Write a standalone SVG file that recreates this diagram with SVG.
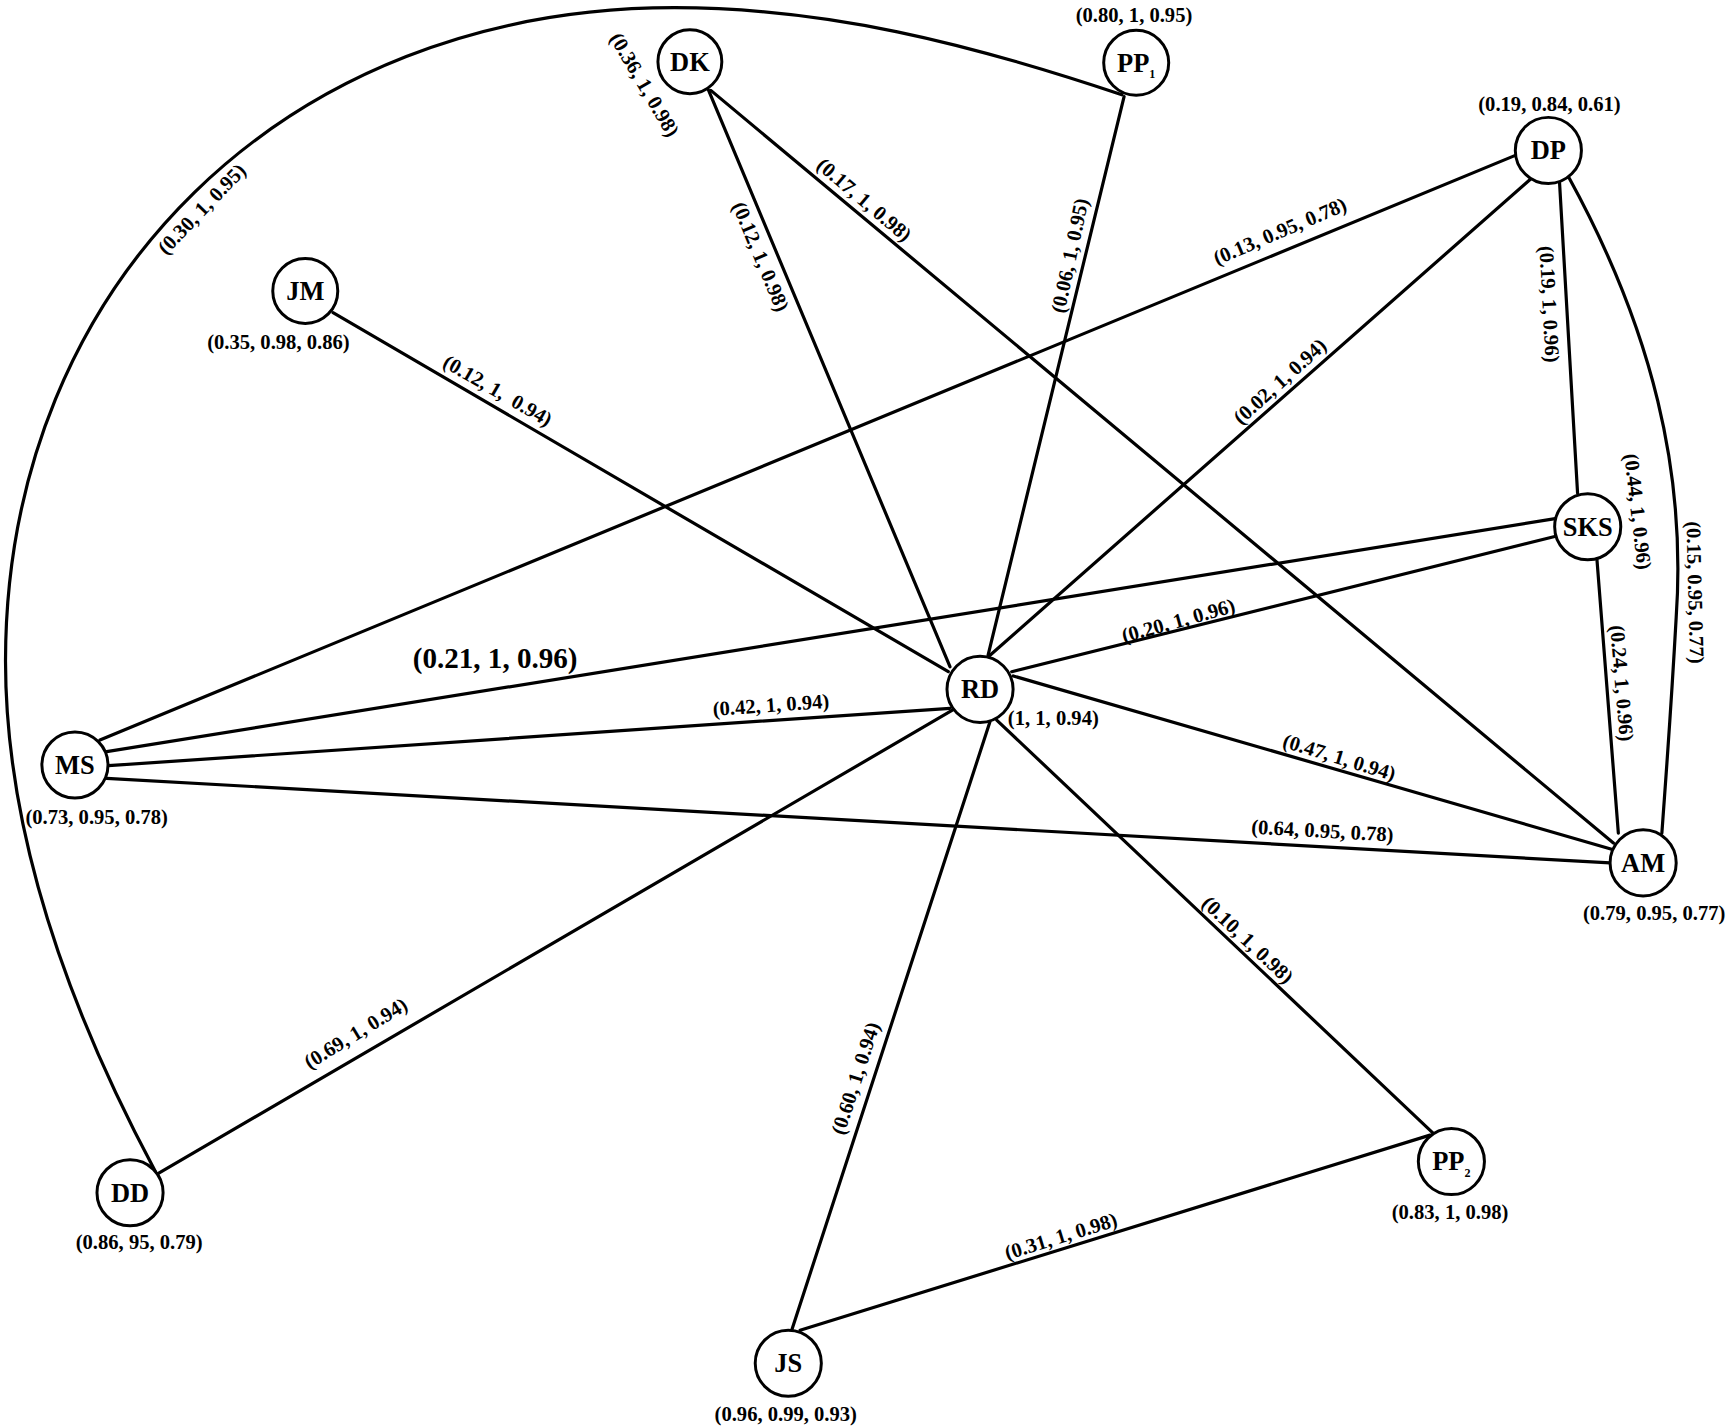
<svg xmlns="http://www.w3.org/2000/svg" width="1728" height="1426" viewBox="0 0 1728 1426">
<style>
.e{fill:none;stroke:#000;stroke-width:2.9;stroke-linecap:round}
.n circle{fill:#fff;stroke:#000;stroke-width:2.7}
.t{font-family:"Liberation Serif","Times New Roman",serif;font-weight:bold;font-size:24px;text-anchor:middle;fill:#000}
.l{font-family:"Liberation Serif","Times New Roman",serif;font-weight:bold;font-size:18.7px;text-anchor:middle;fill:#000;white-space:pre}
.big{font-size:26.4px}
.sub{font-size:11px}
</style>
<rect width="1728" height="1426" fill="#fff"/>
<g transform="scale(1.10204)">
<g id="connectors">
<path class="e" d="M1018,86 C878,39 750,7 612,7 C260,7 5,256 5,600 C5,740 50,893 141,1063"/>
<line class="e" x1="643" y1="82" x2="862" y2="605"/>
<line class="e" x1="645" y1="82" x2="1464" y2="765"/>
<line class="e" x1="1020" y1="87.7" x2="896.6" y2="594.4"/>
<line class="e" x1="1375" y1="141" x2="90.7" y2="671.5"/>
<line class="e" x1="1390" y1="161.5" x2="896.8" y2="595.9"/>
<line class="e" x1="1415" y1="163.3" x2="1431.5" y2="447.5"/>
<path class="e" d="M1423,160 C1500,300 1530,430 1521,560 C1516,650 1512,700 1508,756"/>
<line class="e" x1="302.2" y1="283.7" x2="860.5" y2="609.5"/>
<line class="e" x1="96.8" y1="682" x2="1412.6" y2="470.4"/>
<line class="e" x1="918" y1="609.5" x2="1412.6" y2="486.4"/>
<line class="e" x1="1449" y1="506.6" x2="1468.5" y2="756"/>
<line class="e" x1="98.3" y1="694.8" x2="862" y2="642.7"/>
<line class="e" x1="919.5" y1="613.4" x2="1464" y2="771"/>
<line class="e" x1="96.8" y1="706.3" x2="1461" y2="783"/>
<line class="e" x1="865" y1="644" x2="143.7" y2="1064.7"/>
<line class="e" x1="898.3" y1="655" x2="718.4" y2="1207"/>
<line class="e" x1="904.4" y1="653.4" x2="1300.6" y2="1028.4"/>
<line class="e" x1="726" y1="1207" x2="1297.6" y2="1030"/>
</g>
<g id="edge-labels">
<text class="l" transform="translate(183.2,189.8) rotate(-46)" y="6">(0.30, 1, 0.95)</text>
<text class="l" transform="translate(690,233) rotate(67.3)" y="6">(0.12, 1, 0.98)</text>
<text class="l" transform="translate(784,181.5) rotate(40.3)" y="6">(0.17, 1, 0.98)</text>
<text class="l" transform="translate(971,232) rotate(-78)" y="6">(0.06, 1, 0.95)</text>
<text class="l" transform="translate(1161.5,210) rotate(-23)" y="6">(0.13, 0.95, 0.78)</text>
<text class="l" transform="translate(1161.5,346.3) rotate(-42)" y="6">(0.02, 1, 0.94)</text>
<text class="l" transform="translate(1405.7,276) rotate(87)" y="6">(0.19, 1, 0.96)</text>
<text class="l" transform="translate(1538,537.6) rotate(88.5)" y="6">(0.15, 0.95, 0.77)</text>
<text class="l" transform="translate(451.5,354.6) rotate(30)" y="6" xml:space="preserve">(0.12, 1,  0.94)</text>
<text class="l big" x="449.3" y="606">(0.21, 1, 0.96)</text>
<text class="l" transform="translate(1069.3,563.4) rotate(-15.5)" y="6">(0.20, 1, 0.96)</text>
<text class="l" transform="translate(1471.5,620) rotate(85.2)" y="6">(0.24, 1, 0.96)</text>
<text class="l" transform="translate(699.5,640) rotate(-4)" y="6">(0.42, 1, 0.94)</text>
<text class="l" transform="translate(1215.2,687.4) rotate(17)" y="6">(0.47, 1, 0.94)</text>
<text class="l" transform="translate(1200,754) rotate(3.2)" y="6">(0.64, 0.95, 0.78)</text>
<text class="l" transform="translate(322.9,937.7) rotate(-31.5)" y="6">(0.69, 1, 0.94)</text>
<text class="l" transform="translate(776.5,978.5) rotate(-72)" y="6">(0.60, 1, 0.94)</text>
<text class="l" transform="translate(1132,853) rotate(43.3)" y="6">(0.10, 1, 0.98)</text>
<text class="l" transform="translate(962.7,1122) rotate(-17.2)" y="6">(0.31, 1, 0.98)</text>
</g>
<g id="node-DK" class="n">
<circle cx="626" cy="56" r="29"/>
<text class="t" x="626" y="64">DK</text>
<text class="l" transform="translate(584.6,77) rotate(59.5)" y="6">(0.36, 1, 0.98)</text>
</g>
<g id="node-PP1" class="n">
<circle cx="1031" cy="57" r="29.5"/>
<text class="t" x="1031" y="65">PP<tspan class="sub" dy="6">1</tspan></text>
<text class="l" x="1029" y="20">(0.80, 1, 0.95)</text>
</g>
<g id="node-DP" class="n">
<circle cx="1405" cy="136.5" r="30"/>
<text class="t" x="1405" y="144.5">DP</text>
<text class="l" x="1406" y="100.8">(0.19, 0.84, 0.61)</text>
</g>
<g id="node-JM" class="n">
<circle cx="277" cy="264" r="29.5"/>
<text class="t" x="277" y="272">JM</text>
<text class="l" x="252.6" y="316.4">(0.35, 0.98, 0.86)</text>
</g>
<g id="node-SKS" class="n">
<circle cx="1440.7" cy="478" r="30"/>
<text class="t" x="1440.7" y="486">SKS</text>
<text class="l" transform="translate(1485.9,464.3) rotate(83.3)" y="6">(0.44, 1, 0.96)</text>
</g>
<g id="node-RD" class="n">
<circle cx="889.3" cy="625.5" r="30"/>
<text class="t" x="889.3" y="633.5">RD</text>
<text class="l" x="955.8" y="658.2">(1, 1, 0.94)</text>
</g>
<g id="node-MS" class="n">
<circle cx="68" cy="694.2" r="30"/>
<text class="t" x="68" y="702.2">MS</text>
<text class="l" x="87.7" y="747.4">(0.73, 0.95, 0.78)</text>
</g>
<g id="node-AM" class="n">
<circle cx="1491" cy="783" r="30"/>
<text class="t" x="1491" y="791">AM</text>
<text class="l" x="1501" y="835.2">(0.79, 0.95, 0.77)</text>
</g>
<g id="node-DD" class="n">
<circle cx="118" cy="1082.3" r="30"/>
<text class="t" x="118" y="1090.3">DD</text>
<text class="l" x="126.3" y="1133.1">(0.86, 95, 0.79)</text>
</g>
<g id="node-PP2" class="n">
<circle cx="1317" cy="1054" r="30"/>
<text class="t" x="1317" y="1062">PP<tspan class="sub" dy="6">2</tspan></text>
<text class="l" x="1315.8" y="1105.9">(0.83, 1, 0.98)</text>
</g>
<g id="node-JS" class="n">
<circle cx="715.3" cy="1237" r="30"/>
<text class="t" x="715.3" y="1245">JS</text>
<text class="l" x="713" y="1289">(0.96, 0.99, 0.93)</text>
</g>
</g>
</svg>
